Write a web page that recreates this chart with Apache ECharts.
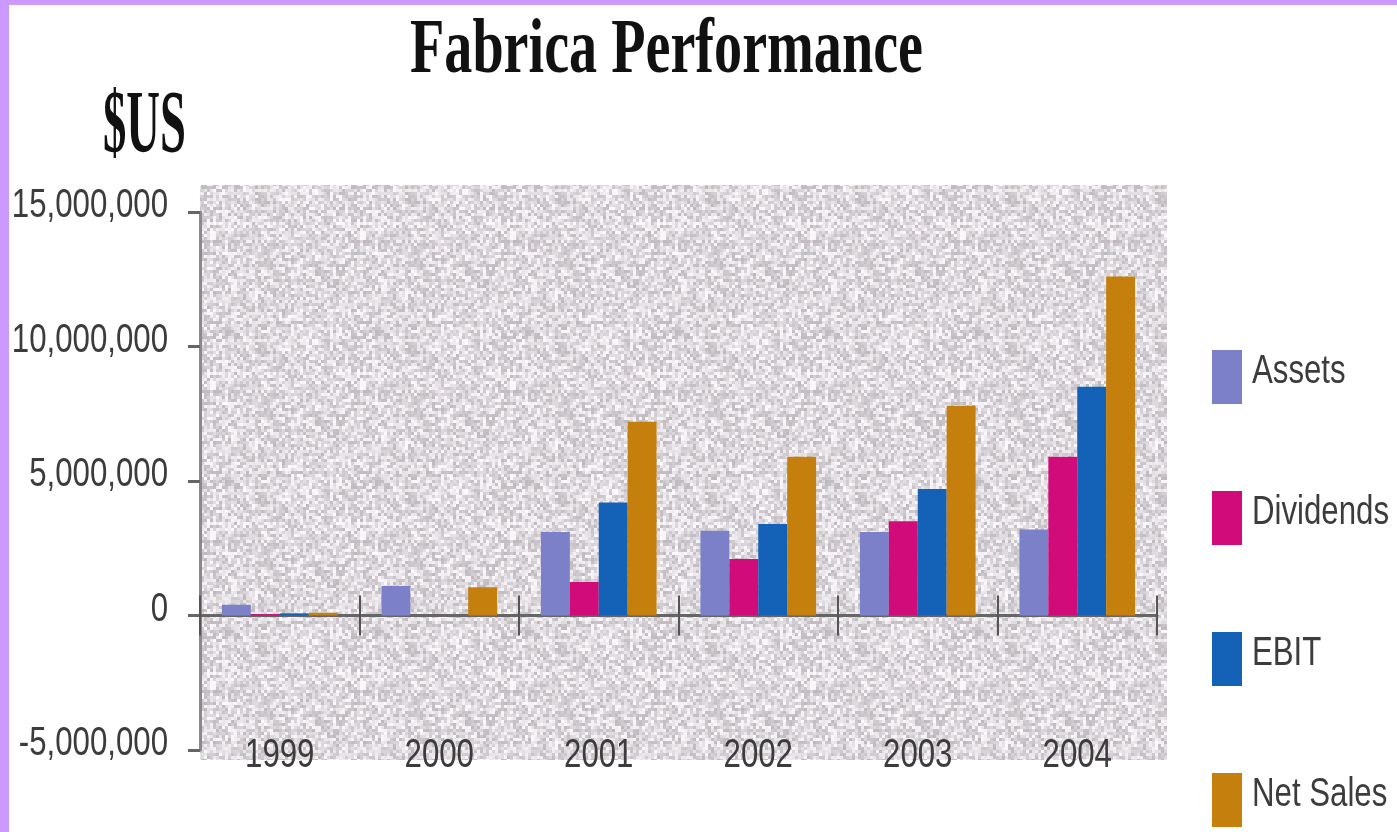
<!DOCTYPE html>
<html>
<head>
<meta charset="utf-8">
<script src="https://cdn.jsdelivr.net/npm/echarts@6/dist/echarts.min.js"></script>
<style>
html,body{margin:0;padding:0;background:#fff;}
#wrap{position:absolute;left:0;top:0;width:1397px;height:832px;background:#fff;}
#bt{position:absolute;left:0;top:0;width:1397px;height:5px;background:#cc99ff;}
#bl{position:absolute;left:0;top:0;width:9px;height:832px;background:#cc99ff;}
#chart{position:absolute;left:0;top:0;width:1397px;height:832px;}
</style>
</head>
<body>
<div id="wrap"><div id="chart"></div><div id="bt"></div><div id="bl"></div></div>
<script>
const years = ['1999','2000','2001','2002','2003','2004'];
const seriesNames = ['Assets', 'Dividends', 'EBIT', 'Net Sales'];
const assets    = [400000, 1100000, 3100000, 3150000, 3100000, 3200000];
const dividends = [50000, 0, 1250000, 2100000, 3500000, 5900000];
const ebit      = [80000, 0, 4200000, 3400000, 4700000, 8500000];
const netSales  = [100000, 1050000, 7200000, 5900000, 7800000, 12600000];
const yTicks = [-5000000, 0, 5000000, 10000000, 15000000];

const SANS = "'Liberation Sans', Arial, sans-serif";
const LBL_FONT = '40px ' + SANS;
const LBL_SCALE = 0.78;
const LBL_COLOR = '#3c3c3c';

// speckled texture (decorative background)
const tex = document.createElement('canvas');
tex.width = 150; tex.height = 150;
(function(){
  const c = tex.getContext('2d');
  let s = 12345;
  function nxt(){ s = (s * 1103515245 + 12345) & 0x7fffffff; return s / 0x7fffffff; }
  for (let y = 0; y < 150; y += 3) {
    for (let x = 0; x < 150; x += 3) {
      const v = 188 + Math.floor(nxt() * 64);
      const tint = Math.floor(nxt() * 5);
      c.fillStyle = 'rgb(' + Math.min(255, v + tint) + ',' + (v - 2) + ',' + Math.min(255, v + tint) + ')';
      c.fillRect(x, y, 3, 3);
    }
  }
})();

const chart = echarts.init(document.getElementById('chart'), null, {renderer: 'canvas'});
const colors = ['#7c80c8', '#d10c7a', '#1462b8', '#c47f0c'];

const gridLeft = 200, gridTop = 212, gridRight = 1397 - 1157, gridBottom = 832 - 750;

function mkSeries(name, data) {
  return {
    name: name, type: 'bar', data: data, xAxisIndex: 0,
    barGap: '0%', barCategoryGap: '27.5%', z: 3
  };
}

chart.setOption({
  animation: false,
  color: colors,
  graphic: [
    {id: 'bg', type: 'rect', z: -10, shape: {x: 200, y: 185, width: 967, height: 575},
     style: {fill: {image: tex, repeat: 'repeat'}}},
    {id: 'title', type: 'text', x: 410, y: 91, scaleX: 0.72, z: 10,
     style: {text: 'Fabrica Performance', font: 'bold 78px "Liberation Serif", serif', fill: '#111', textVerticalAlign: 'bottom', textAlign: 'left'}},
    {id: 'unit', type: 'text', x: 103, y: 172, scaleX: 0.53, z: 10,
     style: {text: '$US', font: 'bold 88px "Liberation Serif", serif', fill: '#111', textVerticalAlign: 'bottom', textAlign: 'left'}}
  ],
  legend: {
    orient: 'vertical', left: 1212, top: 350, padding: 0,
    itemWidth: 30, itemHeight: 54, itemGap: 87,
    icon: 'rect',
    formatter: function(){ return ''; },
    textStyle: {fontSize: 10},
    data: seriesNames
  },
  grid: {left: gridLeft, top: gridTop, right: gridRight, bottom: gridBottom, containLabel: false, outerBoundsMode: 'none'},
  xAxis: [
    {type: 'category', data: years, boundaryGap: true, position: 'bottom',
     axisLine: {show: true, onZero: true, lineStyle: {color: '#666', width: 3}},
     axisTick: {show: true, length: 20, inside: false, lineStyle: {color: '#555', width: 2}},
     axisLabel: {show: false}, splitLine: {show: false}},
    {type: 'category', data: years, boundaryGap: true, position: 'bottom', offset: 0,
     axisLine: {show: false, onZero: false},
     axisTick: {show: true, length: 20, inside: true, lineStyle: {color: '#555', width: 2}},
     axisLabel: {show: false}, splitLine: {show: false}}
  ],
  yAxis: {
    type: 'value', min: -5000000, max: 15000000, interval: 5000000,
    axisLine: {show: true, lineStyle: {color: '#8a8a8a', width: 3}},
    axisTick: {show: true, length: 12, lineStyle: {color: '#666', width: 3}},
    axisLabel: {show: false},
    splitLine: {show: false}
  },
  series: [
    mkSeries('Assets', assets),
    mkSeries('Dividends', dividends),
    mkSeries('EBIT', ebit),
    mkSeries('Net Sales', netSales)
  ]
});

// move the upward ticks onto the zero line, using the value scale
const yZero = chart.convertToPixel({yAxisIndex: 0}, 0);
const yBottom = chart.convertToPixel({yAxisIndex: 0}, yTicks[0]);
chart.setOption({xAxis: [{}, {offset: -(yBottom - yZero)}]});

// condensed-looking text labels, placed through the chart's own scales
const extra = [];
yTicks.forEach(function(v, i){
  const py = chart.convertToPixel({yAxisIndex: 0}, v);
  extra.push({id: 'yl' + i, type: 'text', x: 168, y: py - 6, scaleX: LBL_SCALE, z: 10,
    style: {text: v.toLocaleString('en-US'), font: LBL_FONT, fill: LBL_COLOR, textAlign: 'right', textVerticalAlign: 'middle'}});
});
years.forEach(function(yr, i){
  const px = chart.convertToPixel({xAxisIndex: 0}, yr);
  extra.push({id: 'xl' + i, type: 'text', x: px, y: yBottom + 6, scaleX: LBL_SCALE, z: 10,
    style: {text: yr, font: LBL_FONT, fill: LBL_COLOR, textAlign: 'center', textVerticalAlign: 'middle'}});
});
seriesNames.forEach(function(n, i){
  extra.push({id: 'lg' + i, type: 'text', x: 1252, y: 372 + i * 141, scaleX: LBL_SCALE, z: 10,
    style: {text: n, font: LBL_FONT, fill: LBL_COLOR, textAlign: 'left', textVerticalAlign: 'middle'}});
});
chart.setOption({graphic: extra});
</script>
</body>
</html>
